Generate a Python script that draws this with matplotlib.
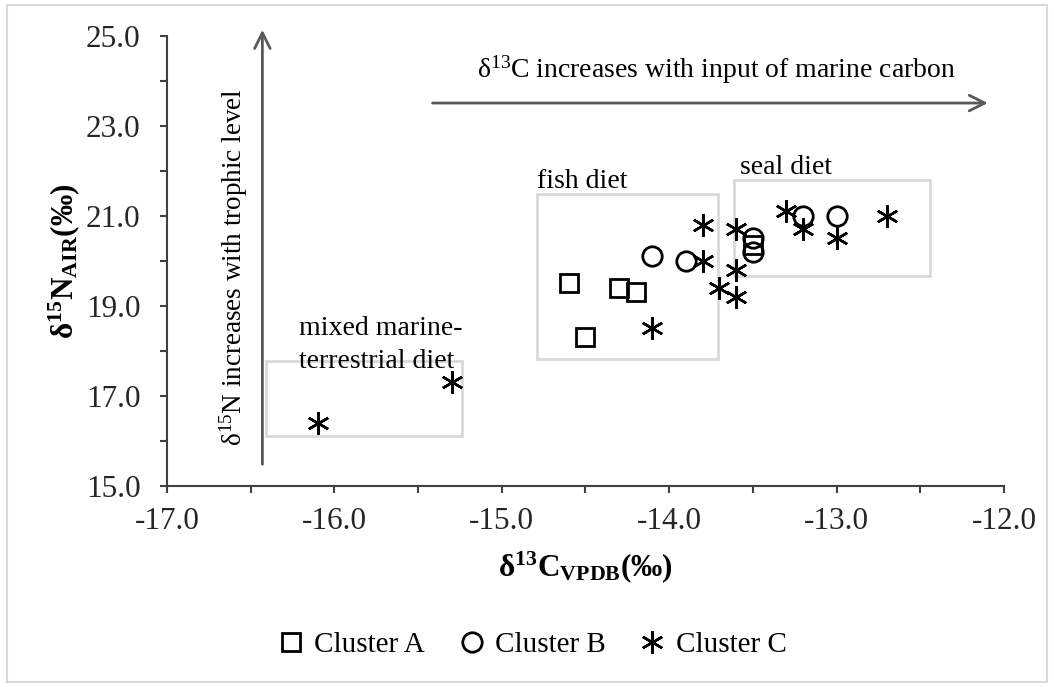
import matplotlib.pyplot as plt
from matplotlib.patches import Rectangle
from matplotlib.ticker import MultipleLocator

plt.rcParams['font.family'] = ['Liberation Serif', 'DejaVu Serif']
plt.rcParams['mathtext.fontset'] = 'custom'
plt.rcParams['mathtext.rm'] = 'Liberation Serif'
plt.rcParams['mathtext.bf'] = 'Liberation Serif:bold'
plt.rcParams['mathtext.it'] = 'Liberation Serif:italic'

# d13C (x) and d15N (y) per cluster
a_c = [-14.6, -14.5, -14.3, -14.2, -13.5]
a_n = [19.5, 18.3, 19.4, 19.3, 20.35]

b_c = [-14.1, -13.9, -13.5, -13.5, -13.2, -13.0]
b_n = [20.1, 20.0, 20.5, 20.2, 21.0, 21.0]

c_c = [-16.1, -15.3, -14.1, -13.8, -13.8, -13.7, -13.6, -13.6, -13.6,
       -13.3, -13.2, -13.0, -12.7]
c_n = [16.4, 17.3, 18.5, 20.8, 20.0, 19.4, 20.7, 19.8, 19.2,
       21.1, 20.7, 20.5, 21.0]

# diet boxes: (x0, y0, x1, y1)
box_mixed = (-16.41, 16.11, -15.24, 17.78)
box_fish = (-14.79, 17.82, -13.71, 21.49)
box_seal = (-13.61, 19.67, -12.44, 21.80)

fig = plt.figure(figsize=(10.54, 6.87), dpi=100)
ax = fig.add_axes([0.1584, 0.2926, 0.7942, 0.655])

dark = '#404040'
gray_box = '#d9d9d9'

ax.plot(a_c, a_n, linestyle='none', marker='s', ms=13, mfc='none',
        mec='black', mew=2, label='Cluster A')
ax.plot(b_c, b_n, linestyle='none', marker='o', ms=14, mfc='none',
        mec='black', mew=2, label='Cluster B')
ax.plot(c_c, c_n, linestyle='none', marker=(6, 2, 0), ms=16,
        mec='black', mew=1.8, label='Cluster C')

for x0, y0, x1, y1 in (box_mixed, box_fish, box_seal):
    ax.add_patch(Rectangle((x0, y0), x1 - x0, y1 - y0, fill=False,
                           ec=gray_box, lw=2, zorder=1))

ax.text(-16.41 + 0.2, 18.35, 'mixed marine-', fontsize=20, ha='left', va='baseline')
ax.text(-16.41 + 0.2, 17.63, 'terrestrial diet', fontsize=20, ha='left', va='baseline')
ax.text(-14.79, 21.62, 'fish diet', fontsize=20, ha='left', va='baseline')
ax.text(-13.58, 21.93, 'seal diet', fontsize=20, ha='left', va='baseline')

# trend arrows
ax.annotate('', xy=(-12.08, 23.51), xytext=(-15.43, 23.51),
            arrowprops=dict(arrowstyle='->', color='#595959', lw=2,
                            mutation_scale=28), annotation_clip=False)
ax.annotate('', xy=(-16.43, 25.2), xytext=(-16.43, 15.42),
            arrowprops=dict(arrowstyle='->', color='#595959', lw=2,
                            mutation_scale=28), annotation_clip=False)
ax.text(-13.72, 24.25, r'$\mathrm{δ^{13}C}$ increases with input of marine carbon',
        fontsize=20, ha='center', va='center')
ax.text(-16.6, 19.87, r'$\mathrm{δ^{15}N}$ increases with trophic level',
        fontsize=19.5, ha='center', va='center', rotation=90)

ax.set_xlim(-17, -12)
ax.set_ylim(15, 25)
ax.xaxis.set_major_locator(MultipleLocator(1))
ax.xaxis.set_minor_locator(MultipleLocator(0.5))
ax.yaxis.set_minor_locator(MultipleLocator(1))
ax.set_yticks([15, 17, 19, 21, 23, 25])
ax.xaxis.set_major_formatter(lambda v, p: f'{v:.1f}')
ax.yaxis.set_major_formatter(lambda v, p: f'{v:.1f}')
ax.tick_params(which='both', direction='out', length=5, width=1.5,
               color=dark, labelsize=22.5, labelcolor='#262626')
ax.tick_params(axis='x', pad=10)
ax.tick_params(axis='y', pad=14)
for side in ('top', 'right'):
    ax.spines[side].set_visible(False)
for side in ('left', 'bottom'):
    ax.spines[side].set_color(dark)
    ax.spines[side].set_linewidth(1.5)

ax.set_xlabel(r'$\mathbf{δ^{13}C_{VPDB}(‰)}$', fontsize=22.5, labelpad=10)
ax.set_ylabel(r'$\mathbf{δ^{15}N_{AIR}(‰)}$', fontsize=22.5, labelpad=3)

fig.legend(loc='center', bbox_to_anchor=(0.5, 0.061), ncol=3, frameon=False,
           fontsize=21, handletextpad=0.0, columnspacing=0.8, handlelength=1.6)

fig.add_artist(Rectangle((0.007, 0.008), 0.986, 0.984, transform=fig.transFigure,
                         fill=False, ec=gray_box, lw=1.5))

fig.savefig('out.png', dpi=100)
